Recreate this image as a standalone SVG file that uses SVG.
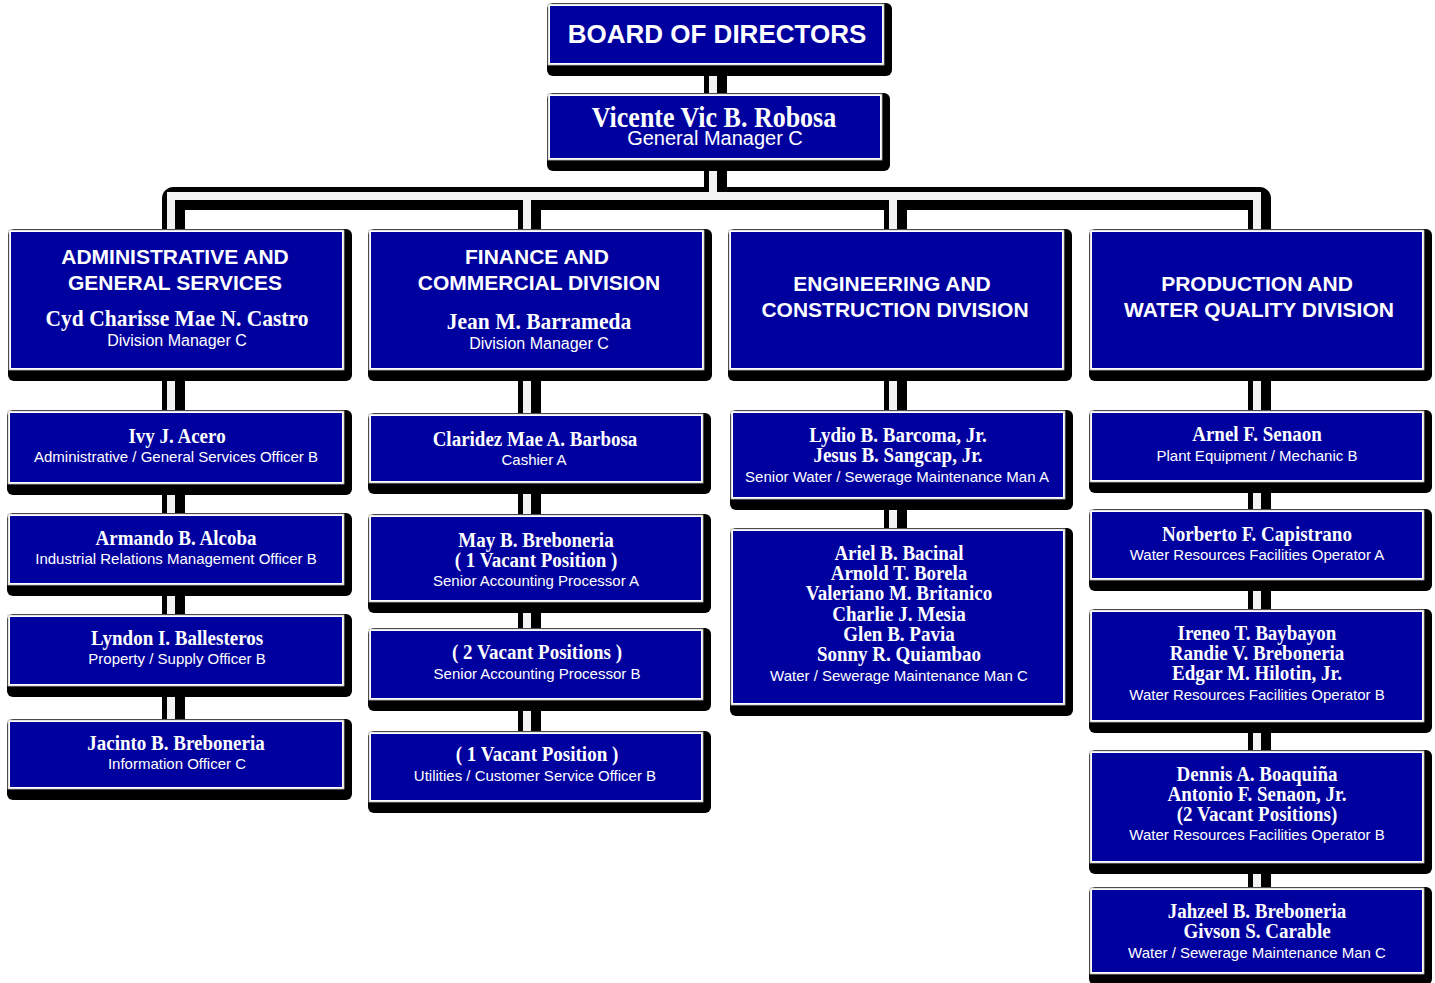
<svg xmlns="http://www.w3.org/2000/svg" width="1435" height="983" viewBox="0 0 1435 983">
<defs>
<style>
.sh{fill:#000}
.bd{fill:#fff;stroke:#b8b8b8;stroke-width:0.8}
.bx{fill:#00009f}
text{fill:#fff;text-anchor:middle}
.ttl{font-family:"Liberation Sans",Arial,sans-serif;font-weight:bold;font-size:21px}
.top{font-family:"Liberation Sans",Arial,sans-serif;font-weight:bold;font-size:26px}
.nm{font-family:"Liberation Serif","Times New Roman",serif;font-weight:bold;font-size:19px}
.dn{font-family:"Liberation Serif","Times New Roman",serif;font-weight:bold;font-size:21.5px}
.gn{font-family:"Liberation Serif","Times New Roman",serif;font-weight:bold;font-size:26px}
.sb{font-family:"Liberation Sans",Arial,sans-serif;font-size:15px}
.sd{font-family:"Liberation Sans",Arial,sans-serif;font-size:16px}
.sg{font-family:"Liberation Sans",Arial,sans-serif;font-size:20px}
.pk{fill:none;stroke:#000;stroke-width:23;stroke-linejoin:round}
.pw{fill:none;stroke:#f3f3f3;stroke-width:8;stroke-linejoin:miter}
</style>
</defs>
<g id="connectors">
<g transform="translate(2.5,2.5)">
<path class="pk" d="M713,40 V196"/>
<path class="pk" d="M171,240 V196 H1257 V240"/>
<path class="pk" d="M171,196 V760"/>
<path class="pk" d="M527,196 V770"/>
<path class="pk" d="M893,196 V620"/>
<path class="pk" d="M1257,196 V930"/>
</g>
<path class="pw" d="M713,40 V196"/>
<path class="pw" d="M171,240 V196 H1257 V240"/>
<path class="pw" d="M171,196 V760"/>
<path class="pw" d="M527,196 V770"/>
<path class="pw" d="M893,196 V620"/>
<path class="pw" d="M1257,196 V930"/>
</g>

<g id="board">
<rect class="sh" x="547" y="3" width="345" height="73" rx="6"/>
<rect class="bd" x="548" y="4" width="336" height="61"/>
<rect class="bx" x="550" y="6" width="332" height="57"/>
<text class="top" x="717" y="43">BOARD OF DIRECTORS</text>
</g>

<g id="gm">
<rect class="sh" x="547" y="93" width="343" height="78" rx="6"/>
<rect class="bd" x="548" y="94" width="334" height="66"/>
<rect class="bx" x="550" y="96" width="330" height="62"/>
<text class="gn" transform="translate(714,127) scale(1,1.15)">Vicente Vic B. Robosa</text>
<text class="sg" x="715" y="145">General Manager C</text>
</g>

<g id="admin">
<rect class="sh" x="8" y="229" width="344" height="152" rx="6"/>
<rect class="bd" x="9" y="230" width="335" height="140"/>
<rect class="bx" x="11" y="232" width="331" height="136"/>
<text class="ttl" x="175" y="264">ADMINISTRATIVE AND</text>
<text class="ttl" x="175" y="290">GENERAL SERVICES</text>
<text class="dn" transform="translate(177,326) scale(1,1.12)">Cyd Charisse Mae N. Castro</text>
<text class="sd" x="177" y="346">Division Manager C</text>
</g>

<g id="finance">
<rect class="sh" x="368" y="229" width="344" height="152" rx="6"/>
<rect class="bd" x="369" y="230" width="335" height="140"/>
<rect class="bx" x="371" y="232" width="331" height="136"/>
<text class="ttl" x="537" y="264">FINANCE AND</text>
<text class="ttl" x="539" y="290">COMMERCIAL DIVISION</text>
<text class="dn" transform="translate(539,329) scale(1,1.12)">Jean M. Barrameda</text>
<text class="sd" x="539" y="349">Division Manager C</text>
</g>

<g id="engineering">
<rect class="sh" x="728" y="229" width="344" height="152" rx="6"/>
<rect class="bd" x="729" y="230" width="335" height="140"/>
<rect class="bx" x="731" y="232" width="331" height="136"/>
<text class="ttl" x="892" y="291">ENGINEERING AND</text>
<text class="ttl" x="895" y="317">CONSTRUCTION DIVISION</text>
</g>

<g id="production">
<rect class="sh" x="1089" y="229" width="343" height="152" rx="6"/>
<rect class="bd" x="1090" y="230" width="334" height="140"/>
<rect class="bx" x="1092" y="232" width="330" height="136"/>
<text class="ttl" x="1257" y="291">PRODUCTION AND</text>
<text class="ttl" x="1259" y="317">WATER QUALITY DIVISION</text>
</g>

<!-- Admin column -->
<g id="ivy">
<rect class="sh" x="7" y="410" width="345" height="85" rx="6"/>
<rect class="bd" x="8" y="411" width="336" height="73"/>
<rect class="bx" x="10" y="413" width="332" height="69"/>
<text class="nm" transform="translate(177,443) scale(1,1.15)">Ivy J. Acero</text>
<text class="sb" x="176" y="462">Administrative / General Services Officer B</text>
</g>
<g id="armando">
<rect class="sh" x="7" y="513" width="345" height="83" rx="6"/>
<rect class="bd" x="8" y="514" width="336" height="71"/>
<rect class="bx" x="10" y="516" width="332" height="67"/>
<text class="nm" transform="translate(176,545) scale(1,1.15)">Armando B. Alcoba</text>
<text class="sb" x="176" y="564">Industrial Relations Management Officer B</text>
</g>
<g id="lyndon">
<rect class="sh" x="7" y="614" width="345" height="83" rx="6"/>
<rect class="bd" x="8" y="615" width="336" height="71"/>
<rect class="bx" x="10" y="617" width="332" height="67"/>
<text class="nm" transform="translate(177,645) scale(1,1.15)">Lyndon I. Ballesteros</text>
<text class="sb" x="177" y="664">Property / Supply Officer B</text>
</g>
<g id="jacinto">
<rect class="sh" x="7" y="719" width="345" height="81" rx="6"/>
<rect class="bd" x="8" y="720" width="336" height="69"/>
<rect class="bx" x="10" y="722" width="332" height="65"/>
<text class="nm" transform="translate(176,750) scale(1,1.15)">Jacinto B. Breboneria</text>
<text class="sb" x="177" y="769">Information Officer C</text>
</g>

<!-- Finance column -->
<g id="claridez">
<rect class="sh" x="368" y="413" width="343" height="81" rx="6"/>
<rect class="bd" x="369" y="414" width="334" height="69"/>
<rect class="bx" x="371" y="416" width="330" height="65"/>
<text class="nm" transform="translate(535,446) scale(1,1.15)">Claridez Mae A. Barbosa</text>
<text class="sb" x="534" y="465">Cashier A</text>
</g>
<g id="may">
<rect class="sh" x="368" y="514" width="343" height="99" rx="6"/>
<rect class="bd" x="369" y="515" width="334" height="87"/>
<rect class="bx" x="371" y="517" width="330" height="83"/>
<text class="nm" transform="translate(536,547) scale(1,1.15)">May B. Breboneria</text>
<text class="nm" transform="translate(536,567) scale(1,1.15)">( 1 Vacant Position )</text>
<text class="sb" x="536" y="586">Senior Accounting Processor A</text>
</g>
<g id="vacant2">
<rect class="sh" x="368" y="628" width="343" height="83" rx="6"/>
<rect class="bd" x="369" y="629" width="334" height="71"/>
<rect class="bx" x="371" y="631" width="330" height="67"/>
<text class="nm" transform="translate(537,659) scale(1,1.15)">( 2 Vacant Positions )</text>
<text class="sb" x="537" y="679">Senior Accounting Processor B</text>
</g>
<g id="vacant1">
<rect class="sh" x="368" y="731" width="343" height="82" rx="6"/>
<rect class="bd" x="369" y="732" width="334" height="70"/>
<rect class="bx" x="371" y="734" width="330" height="66"/>
<text class="nm" transform="translate(537,761) scale(1,1.15)">( 1 Vacant Position )</text>
<text class="sb" x="535" y="781">Utilities / Customer Service Officer B</text>
</g>

<!-- Engineering column -->
<g id="lydio">
<rect class="sh" x="730" y="410" width="343" height="100" rx="6"/>
<rect class="bd" x="731" y="411" width="334" height="88"/>
<rect class="bx" x="733" y="413" width="330" height="84"/>
<text class="nm" transform="translate(898,442) scale(1,1.15)">Lydio B. Barcoma, Jr.</text>
<text class="nm" transform="translate(898,462) scale(1,1.15)">Jesus B. Sangcap, Jr.</text>
<text class="sb" x="897" y="482">Senior Water / Sewerage Maintenance Man A</text>
</g>
<g id="ariel">
<rect class="sh" x="730" y="528" width="343" height="188" rx="6"/>
<rect class="bd" x="731" y="529" width="334" height="176"/>
<rect class="bx" x="733" y="531" width="330" height="172"/>
<text class="nm" transform="translate(899,560) scale(1,1.15)">Ariel B. Bacinal</text>
<text class="nm" transform="translate(899,580) scale(1,1.15)">Arnold T. Borela</text>
<text class="nm" transform="translate(899,600) scale(1,1.15)">Valeriano M. Britanico</text>
<text class="nm" transform="translate(899,621) scale(1,1.15)">Charlie J. Mesia</text>
<text class="nm" transform="translate(899,641) scale(1,1.15)">Glen B. Pavia</text>
<text class="nm" transform="translate(899,661) scale(1,1.15)">Sonny R. Quiambao</text>
<text class="sb" x="899" y="681">Water / Sewerage Maintenance Man C</text>
</g>

<!-- Production column -->
<g id="arnel">
<rect class="sh" x="1089" y="410" width="343" height="83" rx="6"/>
<rect class="bd" x="1090" y="411" width="334" height="71"/>
<rect class="bx" x="1092" y="413" width="330" height="67"/>
<text class="nm" transform="translate(1257,441) scale(1,1.15)">Arnel F. Senaon</text>
<text class="sb" x="1257" y="461">Plant Equipment / Mechanic B</text>
</g>
<g id="norberto">
<rect class="sh" x="1089" y="509" width="343" height="82" rx="6"/>
<rect class="bd" x="1090" y="510" width="334" height="70"/>
<rect class="bx" x="1092" y="512" width="330" height="66"/>
<text class="nm" transform="translate(1257,541) scale(1,1.15)">Norberto F. Capistrano</text>
<text class="sb" x="1257" y="560">Water Resources Facilities Operator A</text>
</g>
<g id="ireneo">
<rect class="sh" x="1089" y="609" width="343" height="124" rx="6"/>
<rect class="bd" x="1090" y="610" width="334" height="112"/>
<rect class="bx" x="1092" y="612" width="330" height="108"/>
<text class="nm" transform="translate(1257,640) scale(1,1.15)">Ireneo T. Baybayon</text>
<text class="nm" transform="translate(1257,660) scale(1,1.15)">Randie V. Breboneria</text>
<text class="nm" transform="translate(1257,680) scale(1,1.15)">Edgar M. Hilotin, Jr.</text>
<text class="sb" x="1257" y="700">Water Resources Facilities Operator B</text>
</g>
<g id="dennis">
<rect class="sh" x="1089" y="750" width="343" height="124" rx="6"/>
<rect class="bd" x="1090" y="751" width="334" height="112"/>
<rect class="bx" x="1092" y="753" width="330" height="108"/>
<text class="nm" transform="translate(1257,781) scale(1,1.15)">Dennis A. Boaquiña</text>
<text class="nm" transform="translate(1257,801) scale(1,1.15)">Antonio F. Senaon, Jr.</text>
<text class="nm" transform="translate(1257,821) scale(1,1.15)">(2 Vacant Positions)</text>
<text class="sb" x="1257" y="840">Water Resources Facilities Operator B</text>
</g>
<g id="jahzeel">
<rect class="sh" x="1089" y="887" width="343" height="98" rx="6"/>
<rect class="bd" x="1090" y="888" width="334" height="86"/>
<rect class="bx" x="1092" y="890" width="330" height="82"/>
<text class="nm" transform="translate(1257,918) scale(1,1.15)">Jahzeel B. Breboneria</text>
<text class="nm" transform="translate(1257,938) scale(1,1.15)">Givson S. Carable</text>
<text class="sb" x="1257" y="958">Water / Sewerage Maintenance Man C</text>
</g>
</svg>
